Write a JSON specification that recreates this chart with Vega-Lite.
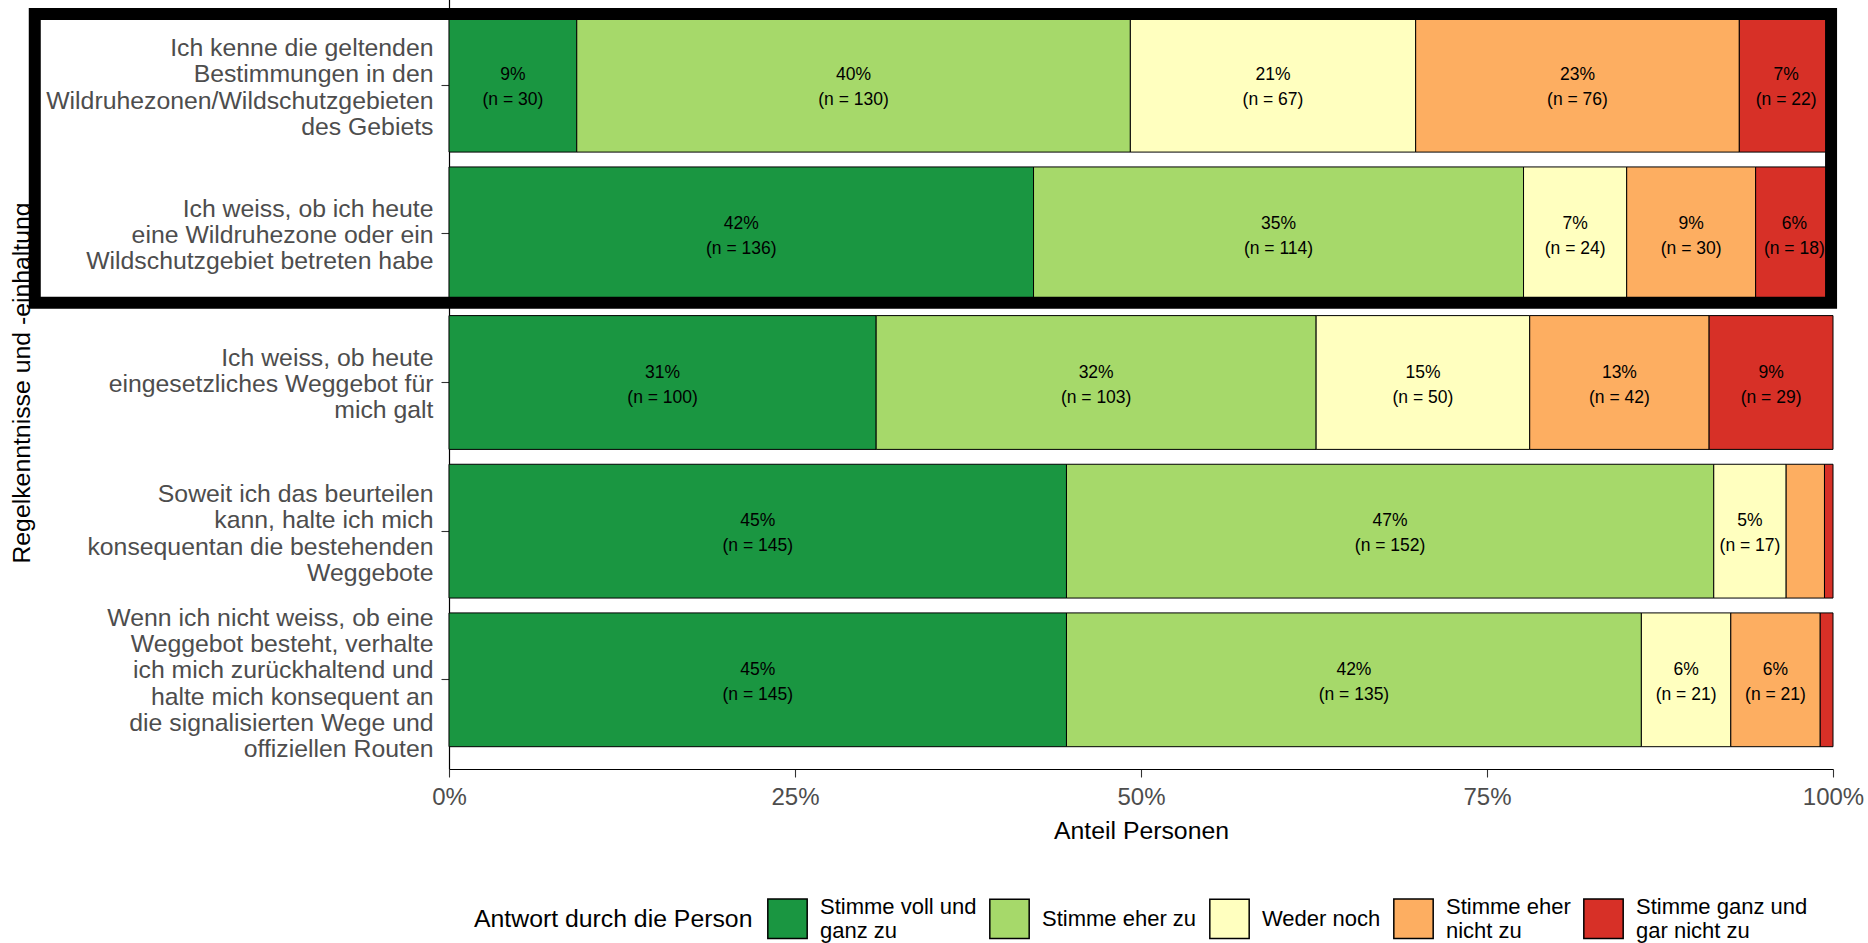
{
  "$schema": "https://vega.github.io/schema/vega-lite/v6.json",
  "autosize": {"type": "none"},
  "padding": {"left": 449, "top": -4, "right": 35, "bottom": 174},
  "width": 1384,
  "height": 773,
  "config": {
    "font": "Liberation Sans",
    "view": {"stroke": null},
    "background": "white"
  },
  "datasets": {
    "answers": [
      {"q": "Ich kenne die geltenden|Bestimmungen in den|Wildruhezonen/Wildschutzgebieten|des Gebiets", "a": "Stimme voll und ganz zu", "rank": 1, "n": 30, "pct": 9},
      {"q": "Ich kenne die geltenden|Bestimmungen in den|Wildruhezonen/Wildschutzgebieten|des Gebiets", "a": "Stimme eher zu", "rank": 2, "n": 130, "pct": 40},
      {"q": "Ich kenne die geltenden|Bestimmungen in den|Wildruhezonen/Wildschutzgebieten|des Gebiets", "a": "Weder noch", "rank": 3, "n": 67, "pct": 21},
      {"q": "Ich kenne die geltenden|Bestimmungen in den|Wildruhezonen/Wildschutzgebieten|des Gebiets", "a": "Stimme eher nicht zu", "rank": 4, "n": 76, "pct": 23},
      {"q": "Ich kenne die geltenden|Bestimmungen in den|Wildruhezonen/Wildschutzgebieten|des Gebiets", "a": "Stimme ganz und gar nicht zu", "rank": 5, "n": 22, "pct": 7},
      {"q": "Ich weiss, ob ich heute|eine Wildruhezone oder ein|Wildschutzgebiet betreten habe", "a": "Stimme voll und ganz zu", "rank": 1, "n": 136, "pct": 42},
      {"q": "Ich weiss, ob ich heute|eine Wildruhezone oder ein|Wildschutzgebiet betreten habe", "a": "Stimme eher zu", "rank": 2, "n": 114, "pct": 35},
      {"q": "Ich weiss, ob ich heute|eine Wildruhezone oder ein|Wildschutzgebiet betreten habe", "a": "Weder noch", "rank": 3, "n": 24, "pct": 7},
      {"q": "Ich weiss, ob ich heute|eine Wildruhezone oder ein|Wildschutzgebiet betreten habe", "a": "Stimme eher nicht zu", "rank": 4, "n": 30, "pct": 9},
      {"q": "Ich weiss, ob ich heute|eine Wildruhezone oder ein|Wildschutzgebiet betreten habe", "a": "Stimme ganz und gar nicht zu", "rank": 5, "n": 18, "pct": 6},
      {"q": "Ich weiss, ob heute|eingesetzliches Weggebot für|mich galt", "a": "Stimme voll und ganz zu", "rank": 1, "n": 100, "pct": 31},
      {"q": "Ich weiss, ob heute|eingesetzliches Weggebot für|mich galt", "a": "Stimme eher zu", "rank": 2, "n": 103, "pct": 32},
      {"q": "Ich weiss, ob heute|eingesetzliches Weggebot für|mich galt", "a": "Weder noch", "rank": 3, "n": 50, "pct": 15},
      {"q": "Ich weiss, ob heute|eingesetzliches Weggebot für|mich galt", "a": "Stimme eher nicht zu", "rank": 4, "n": 42, "pct": 13},
      {"q": "Ich weiss, ob heute|eingesetzliches Weggebot für|mich galt", "a": "Stimme ganz und gar nicht zu", "rank": 5, "n": 29, "pct": 9},
      {"q": "Soweit ich das beurteilen|kann, halte ich mich|konsequentan die bestehenden|Weggebote", "a": "Stimme voll und ganz zu", "rank": 1, "n": 145, "pct": 45},
      {"q": "Soweit ich das beurteilen|kann, halte ich mich|konsequentan die bestehenden|Weggebote", "a": "Stimme eher zu", "rank": 2, "n": 152, "pct": 47},
      {"q": "Soweit ich das beurteilen|kann, halte ich mich|konsequentan die bestehenden|Weggebote", "a": "Weder noch", "rank": 3, "n": 17, "pct": 5},
      {"q": "Soweit ich das beurteilen|kann, halte ich mich|konsequentan die bestehenden|Weggebote", "a": "Stimme eher nicht zu", "rank": 4, "n": 9, "pct": 3},
      {"q": "Soweit ich das beurteilen|kann, halte ich mich|konsequentan die bestehenden|Weggebote", "a": "Stimme ganz und gar nicht zu", "rank": 5, "n": 2, "pct": 1},
      {"q": "Wenn ich nicht weiss, ob eine|Weggebot besteht, verhalte|ich mich zurückhaltend und|halte mich konsequent an|die signalisierten Wege und|offiziellen Routen", "a": "Stimme voll und ganz zu", "rank": 1, "n": 145, "pct": 45},
      {"q": "Wenn ich nicht weiss, ob eine|Weggebot besteht, verhalte|ich mich zurückhaltend und|halte mich konsequent an|die signalisierten Wege und|offiziellen Routen", "a": "Stimme eher zu", "rank": 2, "n": 135, "pct": 42},
      {"q": "Wenn ich nicht weiss, ob eine|Weggebot besteht, verhalte|ich mich zurückhaltend und|halte mich konsequent an|die signalisierten Wege und|offiziellen Routen", "a": "Weder noch", "rank": 3, "n": 21, "pct": 6},
      {"q": "Wenn ich nicht weiss, ob eine|Weggebot besteht, verhalte|ich mich zurückhaltend und|halte mich konsequent an|die signalisierten Wege und|offiziellen Routen", "a": "Stimme eher nicht zu", "rank": 4, "n": 21, "pct": 6},
      {"q": "Wenn ich nicht weiss, ob eine|Weggebot besteht, verhalte|ich mich zurückhaltend und|halte mich konsequent an|die signalisierten Wege und|offiziellen Routen", "a": "Stimme ganz und gar nicht zu", "rank": 5, "n": 3, "pct": 1}
    ],
    "highlight": [
      {"x_start": -0.2993, "x_end": 0.9986, "y_start": 0.521, "y_end": 2.463}
    ]
  },
  "layer": [
    {
      "data": {"name": "answers"},
      "transform": [
        {"stack": "n", "groupby": ["q"], "sort": [{"field": "rank", "order": "ascending"}], "offset": "normalize", "as": ["x0", "x1"]},
        {"calculate": "(datum.x0 + datum.x1) / 2", "as": "xmid"},
        {"calculate": "datum.pct + '%\\n(n = ' + datum.n + ')'", "as": "label"}
      ],
      "encoding": {
        "y": {
          "field": "q",
          "type": "nominal",
          "sort": [
            "Ich kenne die geltenden|Bestimmungen in den|Wildruhezonen/Wildschutzgebieten|des Gebiets",
            "Ich weiss, ob ich heute|eine Wildruhezone oder ein|Wildschutzgebiet betreten habe",
            "Ich weiss, ob heute|eingesetzliches Weggebot für|mich galt",
            "Soweit ich das beurteilen|kann, halte ich mich|konsequentan die bestehenden|Weggebote",
            "Wenn ich nicht weiss, ob eine|Weggebot besteht, verhalte|ich mich zurückhaltend und|halte mich konsequent an|die signalisierten Wege und|offiziellen Routen"
          ],
          "scale": {"paddingInner": 0.1, "paddingOuter": 0.15},
          "axis": {
            "title": "Regelkenntnisse und -einhaltung",
            "titleFontSize": 24.8,
            "titleFontWeight": "normal",
            "titleColor": "#000000",
            "titleX": -427,
            "titleBaseline": "middle",
            "labelExpr": "split(datum.value, '|')",
            "labelFontSize": 24.8,
            "labelLineHeight": 26.1,
            "labelColor": "#4D4D4D",
            "labelAlign": "right",
            "labelBaseline": "middle",
            "labelLimit": 0,
            "labelPadding": 8,
            "labelOffset": {
              "condition": [
                {"test": "length(split(datum.value, '|')) == 6", "value": -60.5},
                {"test": "length(split(datum.value, '|')) == 4", "value": -35.8},
                {"test": "length(split(datum.value, '|')) == 3", "value": -23.7}
              ],
              "value": 0
            },
            "tickSize": 8,
            "tickColor": "#333333",
            "tickWidth": 1.1,
            "domainColor": "#000000",
            "domainWidth": 1.2,
            "grid": false
          }
        }
      },
      "layer": [
        {
          "mark": {"type": "bar", "stroke": "#000000", "strokeWidth": 1},
          "encoding": {
            "x": {
              "field": "x0",
              "type": "quantitative",
              "scale": {"domain": [0, 1], "nice": false, "zero": false},
              "axis": {
                "title": "Anteil Personen",
                "titleFontSize": 24.8,
                "titleFontWeight": "normal",
                "titleColor": "#000000",
                "titlePadding": 9.5,
                "values": [0, 0.25, 0.5, 0.75, 1],
                "format": ".0%",
                "labelFontSize": 24,
                "labelColor": "#4D4D4D",
                "labelPadding": 8,
                "labelFlush": false,
                "tickSize": 8,
                "tickColor": "#333333",
                "tickWidth": 1.1,
                "domainColor": "#000000",
                "domainWidth": 1.2,
                "grid": false
              }
            },
            "x2": {"field": "x1"},
            "color": {
              "field": "a",
              "type": "nominal",
              "scale": {
                "domain": ["Stimme voll und ganz zu", "Stimme eher zu", "Weder noch", "Stimme eher nicht zu", "Stimme ganz und gar nicht zu"],
                "range": ["#1A9641", "#A6D96A", "#FFFFBF", "#FDAE61", "#D73027"]
              },
              "legend": {
                "orient": "none",
                "legendX": 25,
                "legendY": 902,
                "direction": "horizontal",
                "title": "Antwort durch die Person",
                "titleOrient": "left",
                "titleFontSize": 24.8,
                "titleFontWeight": "normal",
                "titleColor": "#000000",
                "titleBaseline": "middle",
                "titlePadding": 14,
                "titleLimit": 0,
                "labelExpr": "datum.value == 'Stimme voll und ganz zu' ? ['Stimme voll und', 'ganz zu'] : datum.value == 'Stimme eher nicht zu' ? ['Stimme eher', 'nicht zu'] : datum.value == 'Stimme ganz und gar nicht zu' ? ['Stimme ganz und', 'gar nicht zu'] : datum.value",
                "labelFontSize": 22,
                "labelLineHeight": 24,
                "labelColor": "#000000",
                "labelLimit": 0,
                "labelOffset": 12,
                "columnPadding": 9,
                "symbolType": "square",
                "symbolSize": 1550,
                "symbolStrokeColor": "#000000",
                "symbolStrokeWidth": 1.5,
                "symbolOpacity": 1,
                "encode": {
                  "labels": {
                    "update": {
                      "dy": {"signal": "(datum.value == 'Stimme eher zu' || datum.value == 'Weder noch') ? 0 : -12"}
                    }
                  }
                }
              }
            }
          }
        },
        {
          "transform": [{"filter": "datum.pct >= 5"}],
          "mark": {"type": "text", "fontSize": 17.5, "lineHeight": 25, "lineBreak": "\n", "color": "#000000", "align": "center", "baseline": "middle", "dy": -10},
          "encoding": {
            "x": {"field": "xmid", "type": "quantitative"},
            "text": {"field": "label"}
          }
        }
      ]
    },
    {
      "data": {"name": "highlight"},
      "mark": {"type": "rect", "filled": false, "stroke": "#000000", "strokeWidth": 12, "clip": false},
      "encoding": {
        "x": {
          "field": "x_start",
          "type": "quantitative",
          "scale": {"domain": [0, 1], "nice": false, "zero": false},
          "axis": {
            "title": "Anteil Personen",
            "titleFontSize": 24.8,
            "titleFontWeight": "normal",
            "titleColor": "#000000",
            "titlePadding": 9.5,
            "values": [0, 0.25, 0.5, 0.75, 1],
            "format": ".0%",
            "labelFontSize": 24,
            "labelColor": "#4D4D4D",
            "labelPadding": 8,
            "labelFlush": false,
            "tickSize": 8,
            "tickColor": "#333333",
            "tickWidth": 1.1,
            "domainColor": "#000000",
            "domainWidth": 1.2,
            "grid": false
          }
        },
        "x2": {"field": "x_end"},
        "y": {"field": "y_start", "type": "quantitative", "scale": {"domain": [0.4, 5.6], "reverse": true, "nice": false, "zero": false}, "axis": null},
        "y2": {"field": "y_end"}
      }
    }
  ],
  "resolve": {"scale": {"y": "independent"}, "axis": {"y": "independent"}}
}
